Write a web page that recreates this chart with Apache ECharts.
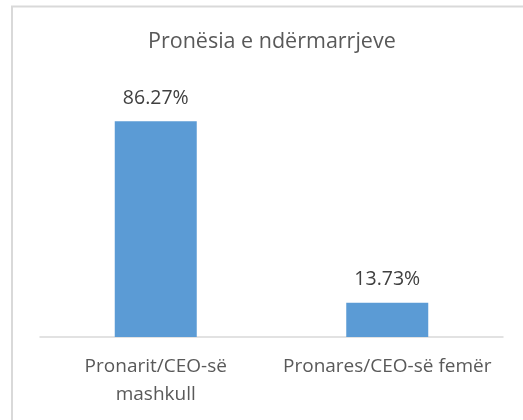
<!DOCTYPE html>
<html><head><meta charset="utf-8">
<script src="https://cdn.jsdelivr.net/npm/echarts@6/dist/echarts.min.js"></script>
<style>html,body{margin:0;padding:0;background:#fff}#c{width:523px;height:420px}</style>
</head><body><div id="c"></div>
<script>
var titleText = 'Pronësia e ndërmarrjeve';
var categories = ['Pronarit/CEO-së\nmashkull', 'Pronares/CEO-së femër'];
var values = [86.27, 13.73];

var chart = echarts.init(document.getElementById('c'), null, {renderer: 'canvas'});
var font = '"Open Sans", sans-serif';
chart.setOption({
  animation: false,
  backgroundColor: '#fff',
  title: {
    text: titleText, left: 143, top: 26,
    textStyle: {fontFamily: font, fontSize: 21.5, fontWeight: 'normal', color: '#595959'}
  },
  graphic: [{
    type: 'rect', shape: {x: 12, y: 6.5, width: 700, height: 600},
    style: {fill: 'none', stroke: '#d9d9d9', lineWidth: 2}, z: -1
  }],
  grid: {left: 40, right: 20, top: 87, bottom: 83},
  xAxis: {
    type: 'category', data: categories,
    axisLine: {lineStyle: {color: '#d9d9d9', width: 1.5}},
    axisTick: {show: false},
    axisLabel: {fontFamily: font, fontSize: 19, color: '#595959', margin: 16, lineHeight: 28, interval: 0}
  },
  yAxis: {type: 'value', min: 0, max: 100, show: false, splitLine: {show: false}},
  series: [{
    type: 'bar', data: values, barWidth: 82,
    itemStyle: {color: '#5b9bd5'},
    label: {show: true, position: 'top', distance: 13, fontFamily: font, fontSize: 19.5, color: '#404040',
      formatter: function (p) { return p.value.toFixed(2) + '%'; }}
  }]
});
</script></body></html>
